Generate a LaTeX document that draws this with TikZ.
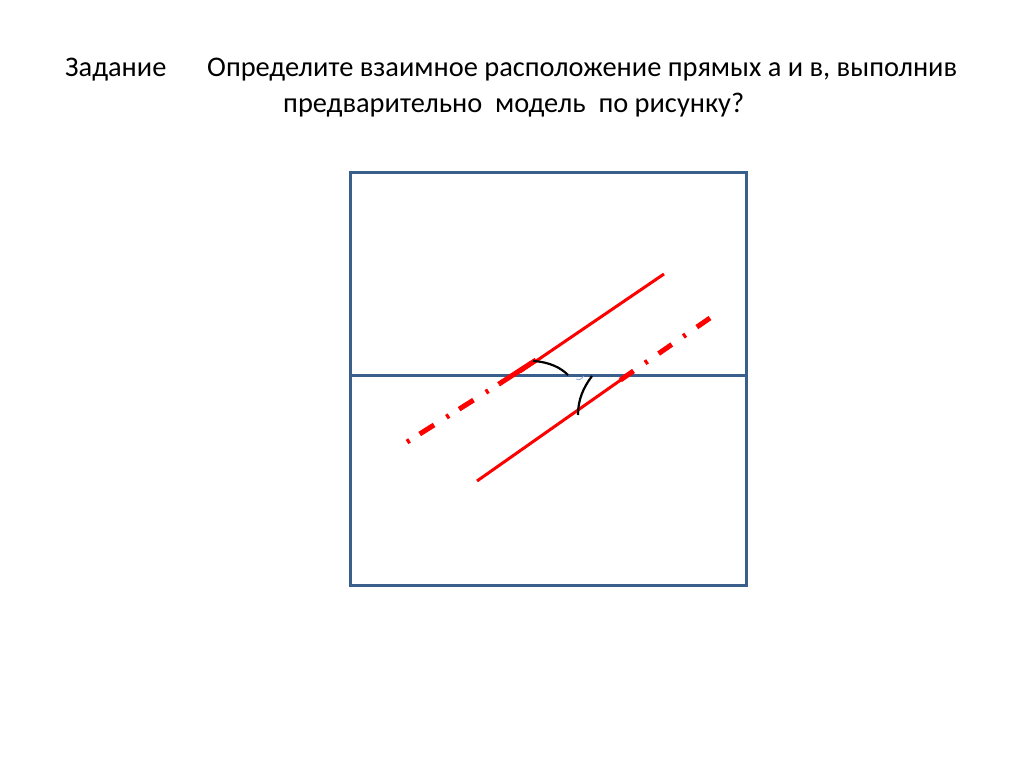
\documentclass[tikz,border=0pt]{standalone}
\usepackage{fontspec}
\setmainfont{Carlito}
\definecolor{frameblue}{HTML}{3B5F8C}
\definecolor{linered}{HTML}{FF0000}
\definecolor{markblue}{HTML}{8FA9D0}
\begin{document}
\begin{tikzpicture}[x=1pt,y=-1pt,
  frame/.style={draw=frameblue,line width=3pt},
  solidred/.style={draw=linered,line width=3pt},
  thickred/.style={draw=linered,line width=5pt},
  dashupper/.style={draw=linered,line width=5pt,dash pattern=on 3pt off 12pt on 17pt off 14.6pt},
  dashlower/.style={draw=linered,line width=5pt,dash pattern=on 16pt off 13.5pt on 3pt off 14pt},
  anglearc/.style={draw=black,line width=2.2pt},
  txt/.style={inner sep=0pt,anchor=base west,font=\fontsize{28.4}{34}\selectfont}]
\useasboundingbox (0,0) rectangle (1024,767);
\fill[white] (0,0) rectangle (1024,767);
% title
\node[txt] (t1) at (65,77) {Задание};
\node[txt] (t2) at (207,77) {Определите взаимное расположение прямых а и в, выполнив};
\node[txt] (t3) at (283,113) {предварительно\ \ модель\ \ по рисунку?};
% frame
\coordinate (tl) at (350,173);
\coordinate (br) at (746,585);
\coordinate (ml) at (350,375);
\coordinate (mr) at (746,375);
\draw[frame] (tl) rectangle (br);
\draw[frame] (ml) -- (mr);
% upper line a
\coordinate (a1) at (664,274);
\coordinate (a2) at (520,372);
\coordinate (a3) at (536,360);
\coordinate (a4) at (407,442);
\coordinate (a5) at (499,384);
\draw[solidred] (a1) -- (a2);
\draw[dashupper] (a4) -- (a5);
\draw[thickred] (a5) -- (a3);
% lower line b
\coordinate (b1) at (477,481);
\coordinate (b2) at (625,377);
\coordinate (b3) at (619,381);
\coordinate (b4) at (710,318);
\draw[solidred] (b1) -- (b2);
\draw[dashlower] (b4) -- (b3);
% angle arcs
\coordinate (c1) at (533,361);
\coordinate (c2) at (568,375);
\draw[anglearc] (c1) .. controls (550,362) and (561,368) .. (c2);
\coordinate (d1) at (592,376);
\coordinate (d2) at (578,415);
\draw[anglearc] (d1) .. controls (583,388) and (578,400) .. (d2);
\coordinate (m1) at (576,379);
\coordinate (m2) at (584,376);
\draw[markblue,line width=0.8pt] (m1) .. controls (580,380) .. (m2);
\end{tikzpicture}
\end{document}
